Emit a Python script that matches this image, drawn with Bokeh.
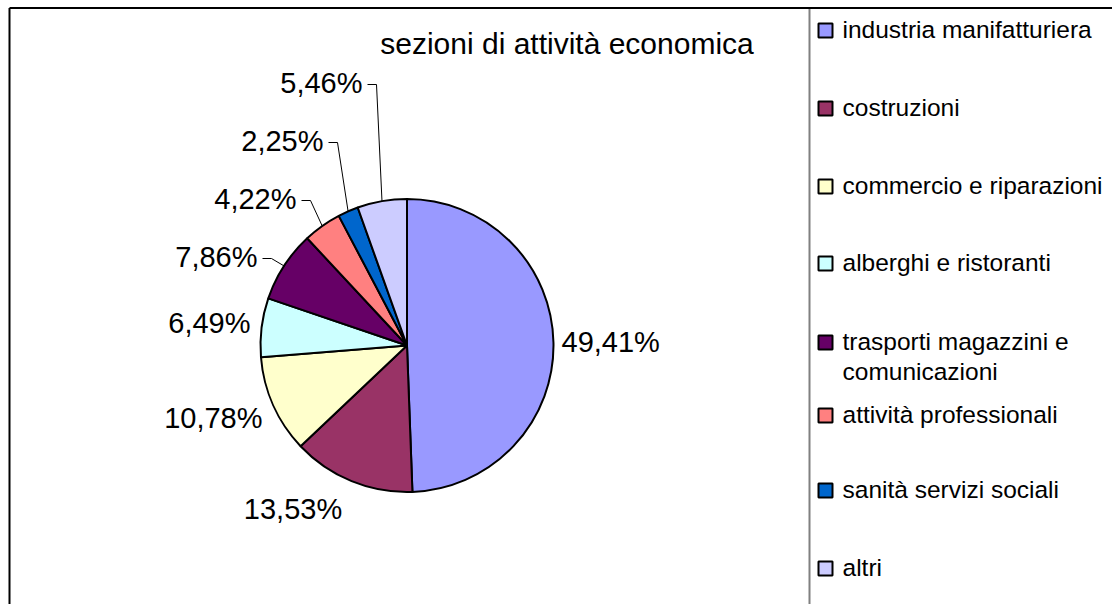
import numpy as np
from bokeh.plotting import figure
from bokeh.models import Range1d
from bokeh.core.properties import value
from bokeh.embed import file_html
from bokeh.resources import INLINE

# ---------------- data ----------------
title = "sezioni di attività economica"
categories = ["industria manifatturiera", "costruzioni", "commercio e riparazioni",
              "alberghi e ristoranti", "trasporti magazzini e comunicazioni",
              "attività professionali", "sanità servizi sociali", "altri"]
legend_lines = [["industria manifatturiera"], ["costruzioni"], ["commercio e riparazioni"],
                ["alberghi e ristoranti"], ["trasporti magazzini e", "comunicazioni"],
                ["attività professionali"], ["sanità servizi sociali"], ["altri"]]
shares = [49.41, 13.53, 10.78, 6.49, 7.86, 4.22, 2.25, 5.46]
colors = ["#9999FF", "#993366", "#FFFFCC", "#CCFFFF", "#660066", "#FF8080", "#0066CC", "#CCCCFF"]
labels = [f"{v:.2f}".replace(".", ",") + "%" for v in shares]

# ---------------- layout (screen pixels) ----------------
W, H = 1112, 604
FONT = "Liberation Sans"
MID = 0.3465  # (ascent - descent) / 2 in em, Liberation Sans


def sy(y):  # screen y -> data y
    return H - y


def base(y, fs):  # baseline screen y -> data y for 'middle' text baseline
    return sy(y - MID * fs)


cx, cy, R = 406.5, 345.0, 146.5
# label anchor (x, baseline y, align, has leader)
label_layout = [(561, 352, "left", False), (292.5, 519, "center", False),
                (262, 428, "right", False), (250, 333, "right", False),
                (257, 267, "right", True), (296, 209, "right", True),
                (323, 151, "right", True), (362, 93, "right", True)]
legend_centers = [30, 108, 186, 263, 342, 415, 490, 568]
LFS, TFS, LEGFS = 29, 30, 24.5

p = figure(width=W, height=H, output_backend="svg", toolbar_location=None,
           x_range=Range1d(0, W), y_range=Range1d(0, H),
           min_border=0, outline_line_color=None, background_fill_color="white",
           border_fill_color="white")
p.axis.visible = False
p.grid.visible = False

# ---------------- pie ----------------
fr = np.array(shares) / sum(shares)
cum = np.concatenate([[0], np.cumsum(fr)])
start = np.pi / 2 - cum[:-1] * 2 * np.pi
end = np.pi / 2 - cum[1:] * 2 * np.pi
p.wedge(x=cx, y=sy(cy), radius=R, start_angle=start, end_angle=end, direction="clock",
        fill_color=colors, line_color="black", line_width=2)

# ---------------- labels & leaders ----------------
mid = np.pi / 2 - (cum[:-1] + fr / 2) * 2 * np.pi
xs, ys = [], []
for i, (lx, ly, al, lead) in enumerate(label_layout):
    p.text(x=[lx], y=[base(ly, LFS)], text=[labels[i]], text_font=value(FONT),
           text_font_size=f"{LFS}px", text_align=al, text_baseline="middle",
           text_color="black")
    if lead:
        x0 = lx + 5
        x1 = x0 + 9
        yy = sy(ly - 9)
        ex = cx + R * np.cos(mid[i])
        ey = sy(cy) + R * np.sin(mid[i])
        xs.append([x0, x1, ex])
        ys.append([yy, yy, ey])
p.multi_line(xs=xs, ys=ys, line_color="black", line_width=1)

# ---------------- title ----------------
p.text(x=[566.5], y=[base(53, TFS)], text=[title], text_font=value(FONT),
       text_font_size=f"{TFS}px", text_align="center", text_baseline="middle",
       text_color="black")

# ---------------- legend ----------------
p.scatter(x=[825] * len(categories), y=[sy(c) for c in legend_centers], marker="square",
          size=14, fill_color=colors, line_color="black", line_width=2)
for c, lines in zip(legend_centers, legend_lines):
    for k, t in enumerate(lines):
        p.text(x=[842], y=[base(c + 7.5 + 30 * k, LEGFS)], text=[t], text_font=value(FONT),
               text_font_size=f"{LEGFS}px", text_align="left", text_baseline="middle",
               text_color="black")

# ---------------- frame ----------------
p.segment(x0=[809], y0=[sy(8)], x1=[809], y1=[0], line_color="#808080", line_width=2)
p.segment(x0=[9], y0=[sy(7.5)], x1=[W], y1=[sy(7.5)], line_color="black", line_width=2)
p.segment(x0=[9], y0=[sy(7.5)], x1=[9], y1=[0], line_color="black", line_width=2)

open("out.html", "w").write(file_html(p, INLINE))
